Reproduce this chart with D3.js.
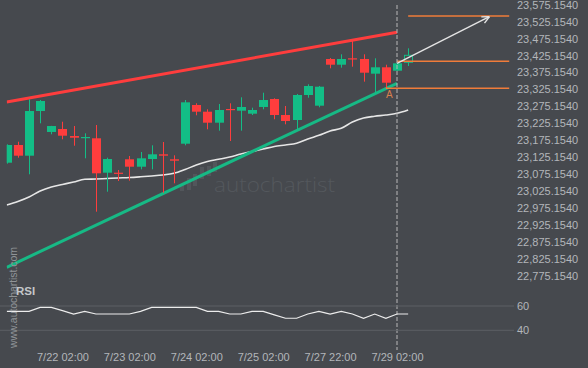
<!DOCTYPE html>
<html><head><meta charset="utf-8">
<script src="https://cdn.jsdelivr.net/npm/d3@7"></script>
<style>html,body{margin:0;padding:0;background:#46494e;overflow:hidden}svg{display:block}</style>
</head><body><svg id="c" width="588" height="368"></svg>
<script>
// ---- data ----
const openV  = [23108.7,23161.0,23129.4,23261.3,23199.4,23208.2,23187.5,23181.6,23180.8,23079.2,23079.2,23118.8,23096.9,23119.6,23133.5,23118.8,23164.8,23279.1,23259.3,23226.8,23267.3,23262.2,23253.4,23273.2,23296.8,23249.5,23234.8,23308.6,23277.0,23414.9,23398.0,23416.9,23414.9,23371.5,23390.4,23380.3,23405.1];
const highV  = [23163.0,23170.7,23295.9,23293.8,23217.5,23229.7,23217.0,23195.5,23220.0,23123.5,23087.2,23128.5,23140.3,23160.1,23169.8,23130.6,23293.8,23284.1,23266.4,23282.0,23284.1,23301.8,23271.1,23315.4,23298.9,23276.1,23311.5,23340.2,23335.2,23417.8,23428.7,23468.0,23428.7,23416.9,23398.0,23402.1,23446.4];
const lowV   = [23106.0,23123.5,23074.5,23225.0,23192.6,23177.8,23158.9,23121.7,22964.1,23023.1,23054.7,23055.6,23089.2,23089.2,23020.1,23047.9,23160.1,23248.7,23207.3,23203.2,23172.8,23203.2,23249.5,23266.4,23237.0,23222.1,23205.3,23300.6,23272.3,23387.4,23389.2,23392.1,23347.9,23310.7,23328.4,23380.3,23394.2];
const closeV = [23161.0,23129.4,23261.3,23290.9,23217.0,23188.4,23182.5,23184.6,23077.4,23119.6,23076.3,23096.9,23121.7,23133.5,23129.4,23114.6,23287.0,23259.3,23226.8,23264.3,23264.3,23273.2,23264.3,23293.8,23249.5,23231.8,23308.6,23335.2,23333.1,23398.0,23414.9,23414.0,23374.4,23390.4,23344.9,23402.1,23425.8];
const maV    = [22983.9,22994.2,23007.5,23025.2,23037.0,23044.4,23051.8,23059.7,23060.6,23062.1,23063.6,23065.0,23067.1,23069.5,23072.4,23077.4,23088.7,23101.9,23112.3,23118.8,23125.6,23134.4,23141.8,23149.2,23156.6,23161.0,23166.0,23178.7,23189.6,23202.3,23210.3,23228.9,23240.7,23245.7,23249.5,23254.5,23264.3];
const rsiV   = [55.6,55.6,55.6,58.9,58.9,56.2,53.4,55.6,53.4,53.4,53.4,53.4,55.6,58.9,58.9,58.9,58.9,58.9,55.6,55.6,53.4,53.4,55.6,55.6,52.7,49.9,49.9,53.4,55.6,53.4,55.6,53.4,49.9,53.4,49.9,53.4,53.4];
const resistance = [[0,23287.9],[35,23493.7]];
const support    = [[0,22800.0],[35,23343.1]];
const forecast   = [[35,23402.0],[43.28,23539.7]];
const levels     = [[36,23541.8],[35,23408.1],[34,23328.4]];
const patternPoint = [34,23328.4,"A"];
const priceTicks = d3.range(0,17).map(k=>22775.154+50*k);
const timeTickIdx = [5,11,17,23,29,35];
const timeTickLabels = ["7/22 02:00","7/23 02:00","7/24 02:00","7/25 02:00","7/27 22:00","7/29 02:00"];
const rsiTicks = [40,60];
const nowIdx = 35;

// ---- drawing ----
const svg = d3.select("#c");
const W=588,H=368;
const GREEN="#13bd86", RED="#fe3d3d", AX="#b3b6ba", FONT="'Liberation Sans',Arial,sans-serif";
svg.append("rect").attr("width",W).attr("height",H).attr("fill","#46494e");

const x = d3.scaleLinear().domain([0,45.07]).range([6.7,509.3]);
const y = d3.scaleLinear().domain([22775.154,23575.154]).range([275.7,4.7]);
const yR = d3.scaleLinear().domain([40,60]).range([330.3,306]);

const defs=svg.append("defs");
defs.append("clipPath").attr("id","clip").append("rect").attr("x",6.7).attr("y",0).attr("width",503).attr("height",290);
defs.append("clipPath").attr("id","clipR").append("rect").attr("x",6.7).attr("y",290).attr("width",503).attr("height",60);

// watermark logo + text
const wm=svg.append("g").attr("fill","#52565b");
[[180,185,191],[187,178,190],[193,174,186],[200,167,179],[207,166,176],[213,162,172]].forEach(b=>{
  wm.append("rect").attr("x",b[0]).attr("y",b[1]).attr("width",4).attr("height",b[2]-b[1]);
});
svg.append("text").attr("x",214).attr("y",191.5).attr("font-family","'Open Sans',sans-serif").attr("font-weight",300)
  .attr("font-size",20).attr("textLength",121).attr("lengthAdjust","spacingAndGlyphs").attr("fill","#54585d").text("autochartist");

const plot=svg.append("g").attr("clip-path","url(#clip)");
const line=d3.line().x(d=>x(d[0])).y(d=>y(d[1]));

// moving average
plot.append("path").datum(maV.map((v,i)=>[i,v])).attr("d",line.curve(d3.curveMonotoneX))
  .attr("fill","none").attr("stroke","#e6e6e6").attr("stroke-width",1.6);
line.curve(d3.curveLinear);

// channel lines
plot.append("path").datum(resistance).attr("d",line).attr("stroke",RED).attr("stroke-width",3).attr("fill","none");
plot.append("path").datum(support).attr("d",line).attr("stroke","#17b985").attr("stroke-width",3).attr("fill","none");

// candles
const n=openV.length;
for(let i=0;i<n;i++){
  const up=closeV[i]>=openV[i], col=up?GREEN:RED;
  const cx=Math.round(x(i))+0.5;
  const top=y(Math.max(openV[i],closeV[i])), bot=y(Math.min(openV[i],closeV[i]));
  const bh=Math.max(1.2,bot-top);
  if(i===n-1){
    plot.append("line").attr("x1",cx).attr("x2",cx).attr("y1",y(highV[i])).attr("y2",top).attr("stroke",col);
    plot.append("line").attr("x1",cx).attr("x2",cx).attr("y1",top+bh).attr("y2",y(lowV[i])).attr("stroke",col);
    plot.append("rect").attr("x",cx-4).attr("y",top).attr("width",8).attr("height",bh).attr("fill","none").attr("stroke",col).attr("stroke-width",1);
  } else {
    plot.append("line").attr("x1",cx).attr("x2",cx).attr("y1",y(highV[i])).attr("y2",y(lowV[i])).attr("stroke",col).attr("stroke-width",1);
    plot.append("rect").attr("x",cx-4.5).attr("y",top).attr("width",9).attr("height",bh).attr("fill",col);
  }
}

// orange levels
levels.forEach(l=>{
  plot.append("line").attr("x1",x(l[0])).attr("x2",x.range()[1]).attr("y1",y(l[1])).attr("y2",y(l[1]))
    .attr("stroke","#f07c3a").attr("stroke-width",1.5);
});
svg.append("text").attr("x",x(patternPoint[0])+3.5).attr("y",y(patternPoint[1])+10).attr("text-anchor","middle")
  .attr("font-family",FONT).attr("font-size",10).attr("fill","#d9804c").text(patternPoint[2]);

// forecast arrow
const a0=[x(forecast[0][0]),y(forecast[0][1])], a1=[x(forecast[1][0]),y(forecast[1][1])];
svg.append("line").attr("x1",a0[0]).attr("y1",a0[1]).attr("x2",a1[0]).attr("y2",a1[1]).attr("stroke","#e4e4e4").attr("stroke-width",1.4);
const ang=Math.atan2(a1[1]-a0[1],a1[0]-a0[0]);
[0.45,-0.45].forEach(d=>{
  svg.append("line").attr("x1",a1[0]).attr("y1",a1[1])
    .attr("x2",a1[0]-8*Math.cos(ang+d)).attr("y2",a1[1]-8*Math.sin(ang+d)).attr("stroke","#e4e4e4").attr("stroke-width",1.4);
});

// now line
svg.append("line").attr("x1",x(nowIdx)).attr("x2",x(nowIdx)).attr("y1",5).attr("y2",350)
  .attr("stroke","#b8b8b8").attr("stroke-dasharray","4,2").attr("stroke-width",1);

// price axis
const pa=svg.append("g").attr("transform","translate(517,0)")
  .call(d3.axisRight(y).tickValues(priceTicks).tickFormat(d3.format(",.4f")).tickSize(0).tickPadding(0));
pa.select(".domain").remove();
pa.selectAll("text").attr("font-family",FONT).attr("font-size",11).attr("fill",AX);

// RSI panel
rsiTicks.forEach(t=>{
  svg.append("line").attr("x1",0).attr("x2",514).attr("y1",yR(t)).attr("y2",yR(t)).attr("stroke","#5c6064").attr("stroke-width",1);
});
svg.append("g").attr("clip-path","url(#clipR)").append("path").datum(rsiV.map((v,i)=>[i,v]))
  .attr("d",d3.line().x(d=>x(d[0])).y(d=>yR(d[1]))).attr("fill","none").attr("stroke","#ececec").attr("stroke-width",1.2);
const ra=svg.append("g").attr("transform","translate(517,0)")
  .call(d3.axisRight(yR).tickValues(rsiTicks).tickSize(0).tickPadding(0));
ra.select(".domain").remove();
ra.selectAll("text").attr("font-family",FONT).attr("font-size",11).attr("fill",AX);

// time axis
const ta=svg.append("g").attr("transform","translate(0,350)")
  .call(d3.axisBottom(x).tickValues(timeTickIdx).tickFormat((d,i)=>timeTickLabels[i]).tickSize(0).tickPadding(3));
ta.select(".domain").remove();
ta.selectAll("text").attr("font-family",FONT).attr("font-size",11).attr("fill",AX);

// side watermark and RSI label
svg.append("text").attr("transform","translate(16.5,297.5) rotate(-90)").attr("text-anchor","middle")
  .attr("font-family",FONT).attr("font-size",10.5).attr("textLength",101).attr("lengthAdjust","spacing")
  .attr("fill","#909498").text("www.autochartist.com");
svg.append("text").attr("x",16).attr("y",295).attr("font-family",FONT).attr("font-weight","bold")
  .attr("font-size",11.5).attr("fill","#c4c7ca").text("RSI");
</script></body></html>
